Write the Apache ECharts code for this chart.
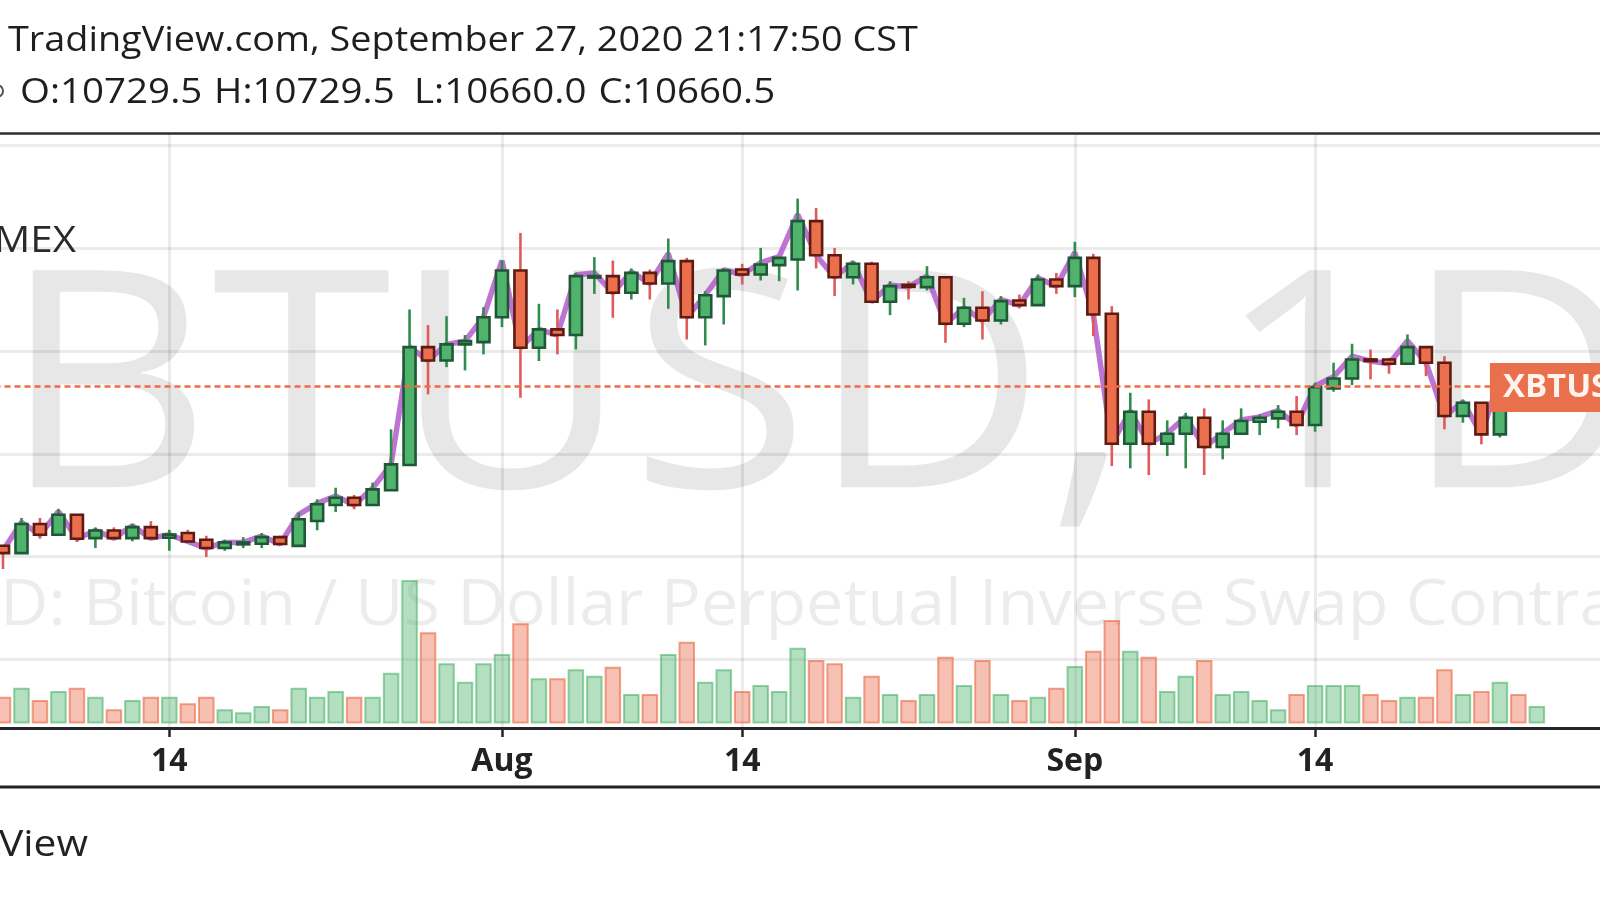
<!DOCTYPE html>
<html><head><meta charset="utf-8">
<script src="https://cdn.jsdelivr.net/npm/echarts@6/dist/echarts.min.js"></script>
<style>html,body{margin:0;padding:0;background:#fff;overflow:hidden}#c{width:1600px;height:900px}</style>
</head><body><div id="c"></div>
<script>
// ---------------- DATA ----------------
const firstDate = '2020-07-05';
const opens  = [9106,9035,9318,9214,9408,9181,9255,9181,9288,9185,9230,9165,9084,9120,9126,9190,9105,9348,9503,9574,9503,9646,9892,11039,10909,11065,11087,11330,11784,11032,11211,11156,11715,11729,11567,11761,11658,11875,11330,11535,11794,11745,11836,11891,12264,11933,11719,11849,11480,11645,11622,11719,11266,11421,11298,11492,11447,11697,11632,11907,11363,10099,10410,10099,10196,10352,10067,10196,10313,10346,10410,10281,10637,10734,10919,10919,10877,11039,10887,10368,10498,10190,10740,10690,10729.5];
const highs  = [9112,9377,9377,9466,9415,9285,9285,9320,9346,9262,9262,9204,9165,9190,9230,9204,9429,9558,9671,9600,9720,10239,11405,11253,11340,11156,11428,11881,12150,11460,11405,11761,11914,11881,11804,11794,12095,11907,11583,11804,11849,12004,11914,12484,12393,12004,11881,11870,11680,11680,11826,11730,11518,11583,11535,11550,11745,11761,12063,11946,11437,10595,10530,10326,10400,10443,10326,10443,10384,10475,10563,10692,10887,11071,11016,10935,11162,11045,10951,10530,10505,10780,10760,10790,10729.5];
const lows   = [8880,9030,9175,9208,9143,9084,9172,9150,9172,9058,9140,8997,9058,9084,9084,9110,9100,9257,9435,9461,9500,9640,9890,10579,10844,10812,10968,11233,10546,10903,10968,11016,11557,11324,11502,11502,11411,11113,11055,11259,11648,11687,11680,11590,11804,11535,11648,11470,11350,11502,11590,11081,11233,11113,11259,11415,11440,11557,11525,11146,9882,9860,9795,9979,9860,9795,9947,10190,10183,10248,10183,10216,10605,10670,10725,10780,10870,10757,10239,10303,10093,10160,10620,10640,10660];
const closes = [9035,9318,9214,9408,9175,9255,9181,9288,9181,9215,9148,9084,9139,9139,9190,9123,9364,9510,9574,9503,9655,9898,11039,10909,11065,11097,11330,11784,11032,11211,11156,11729,11730,11567,11761,11658,11875,11330,11544,11784,11745,11842,11907,12264,11933,11719,11849,11480,11632,11625,11719,11266,11421,11298,11486,11447,11697,11632,11907,11356,10099,10410,10099,10196,10352,10067,10196,10320,10352,10410,10281,10650,10734,10919,10903,10877,11039,10887,10368,10498,10190,10740,10690,10729.5,10660.5];
// overlay (purple) line, read at each day
const overlay = [9060,9335,9214,9440,9175,9255,9181,9300,9181,9215,9148,9084,9139,9139,9200,9123,9410,9520,9590,9503,9665,9898,11039,10909,11065,11097,11330,11880,11032,11211,11156,11740,11760,11567,11770,11658,11950,11330,11544,11790,11745,11860,11920,12330,11933,11719,11860,11480,11640,11625,11730,11266,11421,11298,11500,11447,11710,11632,11960,11356,10099,10420,10099,10200,10360,10067,10200,10330,10360,10420,10281,10660,10750,10950,10903,10877,11100,10887,10368,10505,10190,10740,10690,10729.5,10660.5];
// volume (millions of contracts), Jul 5 .. Sep 26
const volumes = [1072,1432,940,1300,1432,1072,568,940,1072,1072,808,1072,568,448,700,568,1432,1072,1300,1072,1072,2032,5740,3648,2408,1672,2408,2780,4008,1808,1808,2168,1912,2272,1180,1180,2780,3272,1672,2168,1300,1540,1300,3032,2540,2408,1072,1912,1180,940,1180,2672,1540,2540,1180,940,1072,1432,2300,2912,4140,2912,2672,1300,1912,2540,1180,1300,940,568,1180,1540,1540,1540,1180,940,1072,1072,2168,1180,1300,1672,1180,700];
const lastPrice = 10660.5;
const tickDates  = ['2020-07-14','2020-08-01','2020-08-14','2020-09-01','2020-09-14'];
const tickLabels = ['14','Aug','14','Sep','14'];
const labelDate = '2020-09-24';
const priceTicks = [8000, 9000, 10000, 11000, 12000, 13000];
const legendParts = ['O:10729.5', 'H:10729.5', 'L:10660.0', 'C:10660.5'];

// ---------------- helpers ----------------
function addDays(s, n){ const d = new Date(s + 'T00:00:00Z'); d.setUTCDate(d.getUTCDate()+n); return d.toISOString().slice(0,10); }
const cats = [];
for (let i = -1; i < 95; i++) cats.push(addDays(firstDate, i));
const dataDates = closes.map((_, i) => addDays(firstDate, i));

const G = {fill:'#4fb36c', border:'#1f5836', wick:'#2e8c4c'};
const R = {fill:'#eb6f4d', border:'#5d1b12', wick:'#e05a5a'};

const candleData = dataDates.map((d, i) => [d, opens[i], highs[i], lows[i], closes[i]]);
const volData = volumes.map((v, i) => {
  const up = closes[i] >= opens[i];
  return {value: [dataDates[i], v], itemStyle: {
    color: up ? 'rgba(76,178,106,0.42)' : 'rgba(235,111,77,0.43)',
    borderColor: up ? 'rgba(76,178,106,0.6)' : 'rgba(235,111,77,0.65)', borderWidth: 2}};
});
const lineData = dataDates.map((d, i) => [d, overlay[i]]);

function renderCandle(params, api){
  const idx = api.value(0);
  const o = api.value(1), h = api.value(2), l = api.value(3), c = api.value(4);
  const up = c >= o;
  const pH = api.coord([idx, h]), pL = api.coord([idx, l]);
  const pO = api.coord([idx, o]), pC = api.coord([idx, c]);
  const band = api.size([1, 0])[0];
  const bw = band * 0.65;
  const x = pH[0];
  const top = Math.min(pO[1], pC[1]), bot = Math.max(pO[1], pC[1]);
  const S = up ? G : R;
  return {type:'group', children:[
    {type:'line', shape:{x1:x, y1:pH[1], x2:x, y2:pL[1]}, style:{stroke:S.wick, lineWidth:2.6}},
    {type:'rect', shape:{x:x-bw/2, y:top, width:bw, height:Math.max(bot-top, 0.4)}, style:{fill:S.fill, stroke:S.border, lineWidth:2.6}}
  ]};
}
const isTick = (idx, val) => tickDates.indexOf(val) >= 0;

const FONT = '"Open Sans", "Noto Sans", sans-serif';
const LEFT = -15.48, WIDTH = 1755.6;

function txt(x, y, text, font, opts){
  opts = opts || {};
  return Object.assign({type:'text', x:x, y:y, z:opts.z != null ? opts.z : 10, silent:true, scaleX:opts.sx || 1,
    style:{text:text, font:font, fill:opts.fill || '#1e1e1e', align:opts.align || 'left', textAlign:opts.align || 'left',
      verticalAlign:'middle', textVerticalAlign:'middle'}});
}
const gridBase = {left: LEFT, width: WIDTH, containLabel:false, outerBoundsMode:'none'};

const option = {
  backgroundColor: '#ffffff',
  animation: false,
  grid: [
    Object.assign({top: 133, height: 595}, gridBase),      // frame / time scale
    Object.assign({top: 145.5, height: 514}, gridBase),    // price
    Object.assign({top: 523.5, height: 200}, gridBase)     // volume
  ],
  xAxis: [
    {type:'category', gridIndex:0, data:cats, boundaryGap:false,
     axisLine:{show:true, lineStyle:{color:'#262626', width:3}},
     axisTick:{show:true, interval:isTick, length:9, lineStyle:{color:'#262626', width:2.5}},
     axisLabel:{show:true, interval:isTick, margin:18, fontSize:32, fontWeight:'bold', color:'#222', fontFamily:FONT,
       formatter:(v)=>tickLabels[tickDates.indexOf(v)] || ''},
     splitLine:{show:true, interval:isTick, lineStyle:{color:'rgba(0,0,0,0.08)', width:3}}},
    {type:'category', gridIndex:1, data:cats, boundaryGap:false, show:false},
    {type:'category', gridIndex:2, data:cats, boundaryGap:false, show:false}
  ],
  yAxis: [
    {type:'value', gridIndex:0, show:false, splitLine:{show:false}},
    {type:'value', gridIndex:1, min:priceTicks[0], max:priceTicks[priceTicks.length-1], interval:1000,
     axisLine:{show:false}, axisTick:{show:false}, axisLabel:{show:false},
     splitLine:{show:true, lineStyle:{color:'rgba(0,0,0,0.08)', width:3}}},
    {type:'value', gridIndex:2, min:0, max:8000, show:false, splitLine:{show:false}}
  ],
  series: [
    {type:'bar', xAxisIndex:2, yAxisIndex:2, data:volData, barWidth:16.5, z:1, silent:true},
    {type:'line', xAxisIndex:1, yAxisIndex:1, data:lineData, showSymbol:false, symbol:'none', z:2,
     lineStyle:{color:'rgba(176,86,200,0.82)', width:5.5}, silent:true,
     markLine:{silent:true, symbol:['none','none'], label:{show:false},
       lineStyle:{type:[6,4], color:'#ef6c47', width:2.5}, data:[{yAxis:lastPrice}]},
     markPoint:{silent:true, symbol:'rect', symbolSize:[240,49], symbolOffset:[110,1.5],
       itemStyle:{color:'#e9704c', borderWidth:0},
       label:{show:true, position:'insideLeft', distance:13, formatter:'XBTUSD', color:'#fff3ee',
         fontSize:33, fontWeight:'bold', fontFamily:FONT},
       data:[{coord:[labelDate, lastPrice], value:lastPrice}]}},
    {type:'custom', xAxisIndex:1, yAxisIndex:1, data:candleData, renderItem:renderCandle, z:3, silent:true,
     encode:{x:0, y:[1,2,3,4]}}
  ],
  graphic: [
    // watermarks
    txt(-188, 400.7, 'XBTUSD, 1D', '304px "Open Sans"', {z:-10, sx:1.075, fill:'rgba(0,0,0,0.095)'}),
    txt(-203.2, 606.5, 'XBTUSD: Bitcoin / US Dollar Perpetual Inverse Swap Contract', '64px "Open Sans"', {z:-10, sx:1.04, fill:'rgba(0,0,0,0.075)'}),
    // header
    txt(8, 41.5, 'TradingView.com, September 27, 2020 21:17:50 CST', '35px "Open Sans"', {sx:1.08}),
    txt(20, 93.5, legendParts[0], '35px "Open Sans"', {sx:1.1}),
    txt(214, 93.5, legendParts[1], '35px "Open Sans"', {sx:1.1}),
    txt(414, 93.5, legendParts[2], '35px "Open Sans"', {sx:1.1}),
    txt(598.6, 93.5, legendParts[3], '35px "Open Sans"', {sx:1.1}),
    {type:'circle', z:10, shape:{cx:-3, cy:91, r:6}, style:{fill:'none', stroke:'#555', lineWidth:2}},
    {type:'line', z:10, shape:{x1:0, y1:133.5, x2:1600, y2:133.5}, style:{stroke:'#2e2e2e', lineWidth:2.5}},
    txt(76, 241.5, 'BITMEX', '36px "Open Sans"', {sx:1.12, align:'right', fill:'#2a2a2a'}),
    // time scale bottom border and footer
    {type:'line', z:10, shape:{x1:0, y1:787, x2:1600, y2:787}, style:{stroke:'#222', lineWidth:3}},
    txt(88, 845, 'TradingView', '37px "Open Sans"', {sx:1.1, align:'right', fill:'#222'})
  ]
};
const chart = echarts.init(document.getElementById('c'), null, {renderer:'canvas'});
chart.setOption(option);
</script>
</body></html>
